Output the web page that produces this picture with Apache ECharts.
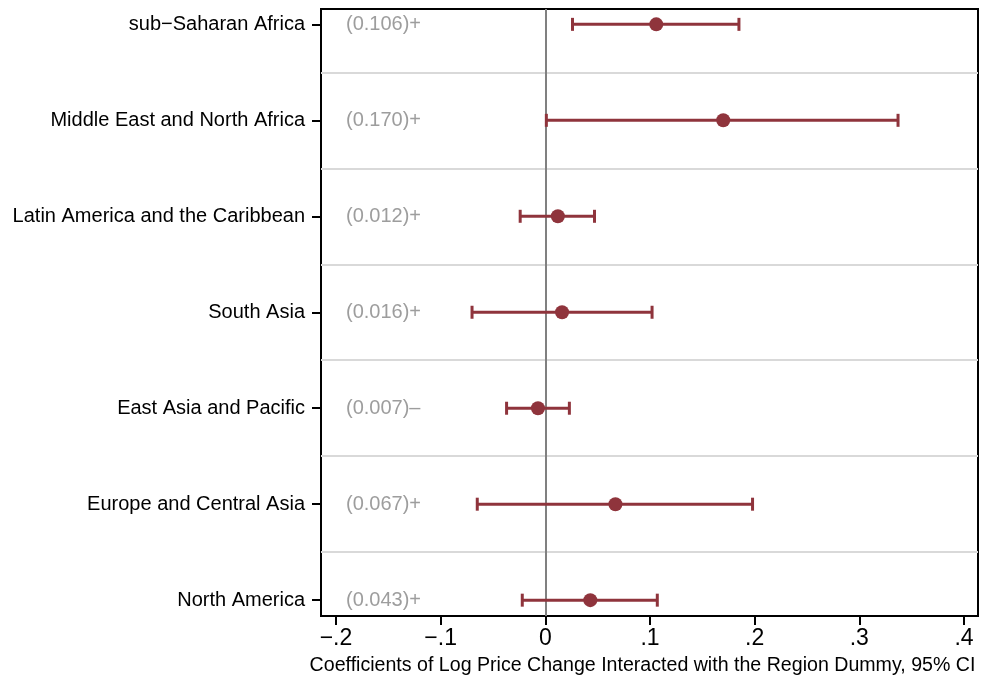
<!DOCTYPE html>
<html>
<head>
<meta charset="utf-8">
<script src="https://cdn.jsdelivr.net/npm/echarts@6/dist/echarts.min.js"></script>
<style>
html,body{margin:0;padding:0;background:#fff;}
#chart{width:994px;height:677px;}
</style>
</head>
<body>
<div id="chart"></div>
<script>
// ---- data ----
const categories = ['sub−Saharan Africa', 'Middle East and North Africa', 'Latin America and the Caribbean', 'South Asia', 'East Asia and Pacific', 'Europe and Central Asia', 'North America'];
const coef  = [0.106, 0.170, 0.012, 0.016, -0.007, 0.067, 0.043];
const lower = [0.026, 0.001, -0.024, -0.070, -0.037, -0.065, -0.022];
const upper = [0.185, 0.337, 0.047, 0.102, 0.023, 0.198, 0.107];
const coefText = ['(0.106)+', '(0.170)+', '(0.012)+', '(0.016)+', '(0.007)–', '(0.067)+', '(0.043)+'];
const xTicks = [-0.2, -0.1, 0, 0.1, 0.2, 0.3, 0.4];
const xTitle = 'Coefficients of Log Price Change Interacted with the Region Dummy, 95% CI';

// ---- build ----
const n = categories.length;
const rowY = categories.map((c, i) => n - i);
const separators = [];
for (let i = 1; i < n; i++) separators.push({ yAxis: i + 0.5 });

const FONT = "'Liberation Sans', Arial, Helvetica, sans-serif";
const RED = '#8f343c';
const textAnchorX = -0.2;

const chart = echarts.init(document.getElementById('chart'), null, { renderer: 'canvas' });
chart.setOption({
  animation: false,
  backgroundColor: '#fff',
  textStyle: { fontFamily: FONT },
  grid: { left: 321, right: 16, top: 9, bottom: 61, show: true, borderColor: '#000', borderWidth: 2, backgroundColor: 'transparent', containLabel: false, outerBoundsMode: 'none' },
  xAxis: {
    type: 'value',
    min: -0.2143, max: 0.4134,
    axisLine: { show: true, onZero: false, lineStyle: { color: '#000', width: 2 } },
    axisTick: { show: true, customValues: xTicks, length: 9, lineStyle: { color: '#000', width: 2 } },
    axisLabel: {
      customValues: xTicks, margin: 11, color: '#000', fontSize: 23, fontFamily: FONT,
      formatter: v => {
        if (Math.abs(v) < 1e-9) return '0';
        return (v < 0 ? '−' : '') + Math.abs(v).toFixed(1).replace(/^0/, '');
      }
    },
    splitLine: { show: false },
    name: xTitle, nameLocation: 'middle', nameGap: 40,
    nameTextStyle: { fontSize: 19.6, color: '#000', fontFamily: FONT, padding: [0, 14, 0, 0] }
  },
  yAxis: {
    type: 'value',
    min: 0.835, max: 7.16,
    axisLine: { show: true, onZero: false, lineStyle: { color: '#000', width: 2 } },
    axisTick: { show: true, customValues: rowY, length: 9, lineStyle: { color: '#000', width: 2 } },
    axisLabel: {
      customValues: rowY, margin: 16, color: '#000', fontSize: 20, fontFamily: FONT,
      formatter: v => categories[n - Math.round(v)]
    },
    splitLine: { show: false }
  },
  series: [
    {
      type: 'line', data: [], silent: true,
      markLine: {
        silent: true, symbol: 'none', label: { show: false },
        lineStyle: { color: '#d9d9d9', width: 2, type: 'solid' },
        data: separators
      }
    },
    {
      type: 'line', data: [], silent: true, z: 3,
      markLine: {
        silent: true, symbol: 'none', label: { show: false },
        lineStyle: { color: '#808080', width: 2, type: 'solid' },
        data: [{ xAxis: 0 }]
      }
    },
    {
      type: 'custom', z: 5,
      data: categories.map((c, i) => [lower[i], upper[i], rowY[i]]),
      renderItem: (params, api) => {
        const y = api.value(2);
        const a = api.coord([api.value(0), y]);
        const b = api.coord([api.value(1), y]);
        const h = 6.5;
        const style = { stroke: RED, lineWidth: 3 };
        return {
          type: 'group',
          children: [
            { type: 'line', shape: { x1: a[0], y1: a[1], x2: b[0], y2: b[1] }, style },
            { type: 'line', shape: { x1: a[0], y1: a[1] - h, x2: a[0], y2: a[1] + h }, style },
            { type: 'line', shape: { x1: b[0], y1: b[1] - h, x2: b[0], y2: b[1] + h }, style }
          ]
        };
      }
    },
    {
      type: 'scatter', z: 6,
      symbol: 'circle', symbolSize: 14,
      itemStyle: { color: RED, opacity: 1 },
      data: categories.map((c, i) => [coef[i], rowY[i]])
    },
    {
      type: 'scatter', z: 6, symbolSize: 0, silent: true,
      data: categories.map((c, i) => [textAnchorX, rowY[i]]),
      label: {
        show: true, position: 'right', distance: 10,
        color: '#858585', fontSize: 20, fontFamily: FONT,
        formatter: p => coefText[p.dataIndex]
      }
    }
  ]
});
</script>
</body>
</html>
